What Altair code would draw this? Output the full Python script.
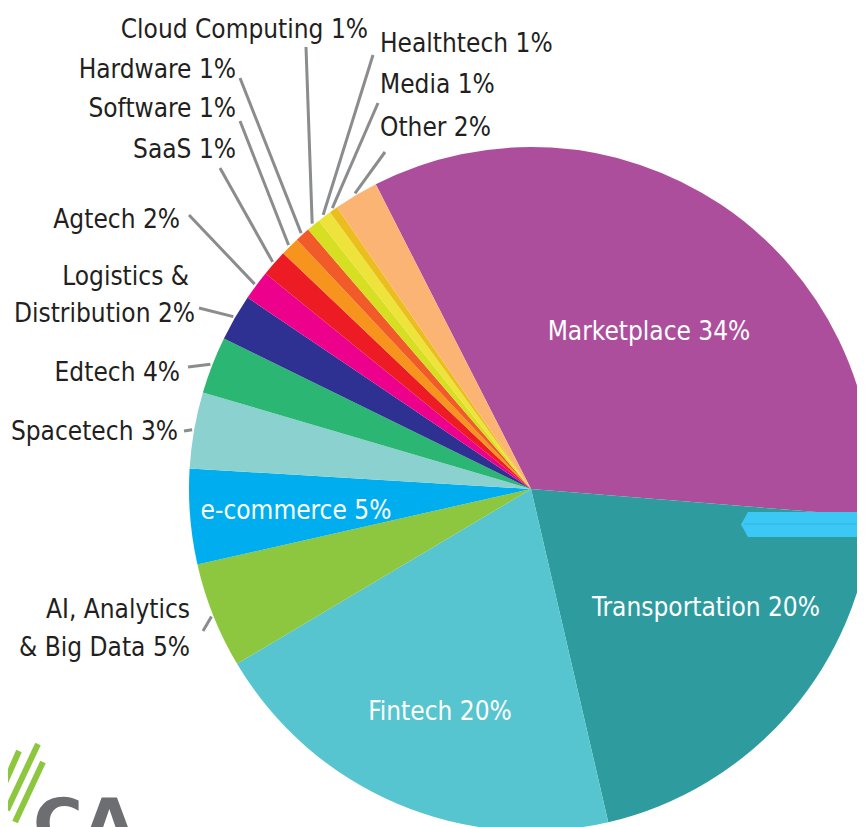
import altair as alt
import pandas as pd
import numpy as np

# ---------------- data ----------------
categories = ["Marketplace", "Transportation", "Fintech", "AI, Analytics & Big Data",
              "e-commerce", "Spacetech", "Edtech", "Logistics & Distribution", "Agtech",
              "SaaS", "Software", "Hardware", "Cloud Computing", "Healthtech", "Media", "Other"]
shares = [33.8, 20.1, 20.1, 5.0, 4.5, 3.6, 2.7, 2.2, 1.4, 1.25, 0.9, 0.7, 0.65, 0.65, 0.4, 2.1]
label_pcts = [34, 20, 20, 5, 5, 3, 4, 2, 2, 1, 1, 1, 1, 1, 1, 2]
colors = ["#AD4E9C", "#2E9C9F", "#56C5D0", "#8DC63F", "#00AEEF", "#8AD1D0", "#2BB673",
          "#2E3192", "#EC008C", "#ED1C24", "#F7941D", "#F15A29", "#D7DF23", "#EEE33A",
          "#EBBE1E", "#FBB474"]

# ---------------- layout (page pixels) ----------------
OX, OY = 8, 8
W, H = 849, 819
CX, CY = 531 - OX, 489 - OY
R = 342
START = -27.0  # degrees, clockwise from 12 o'clock
FONT = "DejaVu Sans Condensed"

inside = {"Marketplace": (649, 340), "Transportation": (706, 616),
          "Fintech": (440, 720), "e-commerce": (296, 519)}
# outside labels: list of (line text template, x, y, align)
outside = {
    "AI, Analytics & Big Data": [("AI, Analytics", 190, 618, "right"), ("& Big Data {p}%", 190, 656, "right")],
    "Spacetech": [("Spacetech {p}%", 178, 440, "right")],
    "Edtech": [("Edtech {p}%", 180, 381, "right")],
    "Logistics & Distribution": [("Logistics &", 189, 285, "right"), ("Distribution {p}%", 195, 322, "right")],
    "Agtech": [("Agtech {p}%", 180, 228, "right")],
    "SaaS": [("SaaS {p}%", 236, 158, "right")],
    "Software": [("Software {p}%", 236, 117, "right")],
    "Hardware": [("Hardware {p}%", 236, 78, "right")],
    "Cloud Computing": [("Cloud Computing {p}%", 368, 38, "right")],
    "Healthtech": [("Healthtech {p}%", 380, 52, "left")],
    "Media": [("Media {p}%", 380, 93, "left")],
    "Other": [("Other {p}%", 380, 136, "left")],
}
leader_start = {
    "AI, Analytics & Big Data": (203, 631), "Spacetech": (184, 431), "Edtech": (188, 367),
    "Logistics & Distribution": (199, 308), "Agtech": (189, 215), "SaaS": (220, 168),
    "Software": (240, 121), "Hardware": (240, 78), "Cloud Computing": (306, 47),
    "Healthtech": (373, 55), "Media": (378, 103), "Other": (385, 152),
}

# ---------------- derived tables ----------------
n = len(categories)
df = pd.DataFrame({"cat": categories, "share": shares, "idx": list(range(n))})
total = float(sum(shares))
ends = np.cumsum(shares) / total * 360.0 + START
starts = ends - np.array(shares) / total * 360.0
mids = dict(zip(categories, (starts + ends) / 2.0))

a0 = float(np.radians(START))
pie = alt.Chart(df).mark_arc(radius=R).encode(
    theta=alt.Theta("share:Q", stack=True, scale=alt.Scale(range=[a0, a0 + 2 * np.pi])),
    color=alt.Color("cat:N", scale=alt.Scale(domain=categories, range=colors), legend=None),
    order=alt.Order("idx:Q"),
    x=alt.value(CX), y=alt.value(CY),
)

rows = []
for c, (sx, sy) in leader_start.items():
    m = np.radians(mids[c])
    rows.append({"x": sx - OX, "y": sy - OY,
                 "x2": float(CX + 344 * np.sin(m)), "y2": float(CY - 344 * np.cos(m))})
lines_df = pd.DataFrame(rows)
leaders = alt.Chart(lines_df).mark_rule(color="#8A8C8E", strokeWidth=3).encode(
    x=alt.X("x:Q", scale=None, axis=None), y=alt.Y("y:Q", scale=None, axis=None),
    x2="x2:Q", y2="y2:Q")

pct = dict(zip(categories, label_pcts))
txt_rows = []
for c, lst in outside.items():
    for t, x, y, al in lst:
        txt_rows.append({"t": t.format(p=pct[c]), "x": x - OX, "y": y - OY, "al": al})
for c, (x, y) in inside.items():
    txt_rows.append({"t": f"{c} {pct[c]}%", "x": x - OX, "y": y - OY, "al": "center"})
tdf = pd.DataFrame(txt_rows)


def text_layer(al, color):
    return alt.Chart(tdf).transform_filter(alt.datum.al == al).mark_text(
        align=al, baseline="alphabetic", font=FONT, fontSize=26, color=color
    ).encode(x=alt.X("x:Q", scale=None, axis=None), y=alt.Y("y:Q", scale=None, axis=None), text="t:N")


# decorative elements (arrow tab at right, logo fragment at bottom-left)
deco = pd.DataFrame({"x": [810.5 - OX], "y": [524.5 - OY]})
arrow = alt.Chart(deco).mark_point(
    shape="M-1,0 L-0.9,-0.18 L1,-0.18 L1,0.18 L-0.9,0.18 Z", size=139 * 139,
    filled=True, fill="#3CC8F4", opacity=1, strokeWidth=0
).encode(x=alt.X("x:Q", scale=None, axis=None), y=alt.Y("y:Q", scale=None, axis=None))
tab_line = alt.Chart(pd.DataFrame({"x": [744 - OX], "x2": [870 - OX], "y": [524 - OY]})).mark_rule(
    color="#33B5DD", strokeWidth=1
).encode(x=alt.X("x:Q", scale=None, axis=None), x2="x2:Q", y=alt.Y("y:Q", scale=None, axis=None))

stripes = pd.DataFrame({"x": [0, 7, 15], "y": [794, 810, 822], "x2": [19, 38, 43], "y2": [751, 744, 762]})
stripes = stripes.assign(x=stripes.x - OX, y=stripes.y - OY, x2=stripes.x2 - OX, y2=stripes.y2 - OY)
logo_lines = alt.Chart(stripes).mark_rule(color="#8DC63F", strokeWidth=6).encode(
    x=alt.X("x:Q", scale=None, axis=None), y=alt.Y("y:Q", scale=None, axis=None), x2="x2:Q", y2="y2:Q")
logo_txt = alt.Chart(pd.DataFrame({"t": ["CA"], "x": [33 - OX], "y": [847 - OY]})).mark_text(
    align="left", baseline="alphabetic", font="DejaVu Sans", fontWeight="bold", fontSize=68, color="#6D6E71"
).encode(x=alt.X("x:Q", scale=None, axis=None), y=alt.Y("y:Q", scale=None, axis=None), text="t:N")

chart = alt.layer(
    pie, arrow, tab_line, leaders, text_layer("right", "#231F20"), text_layer("left", "#231F20"),
    text_layer("center", "#FFFFFF"), logo_lines, logo_txt
).properties(
    width=W, height=H, padding=0, autosize=alt.AutoSizeParams(type="none")
).configure_view(stroke=None)

chart.save("out.html", embed_options={"renderer": "svg", "actions": False})
